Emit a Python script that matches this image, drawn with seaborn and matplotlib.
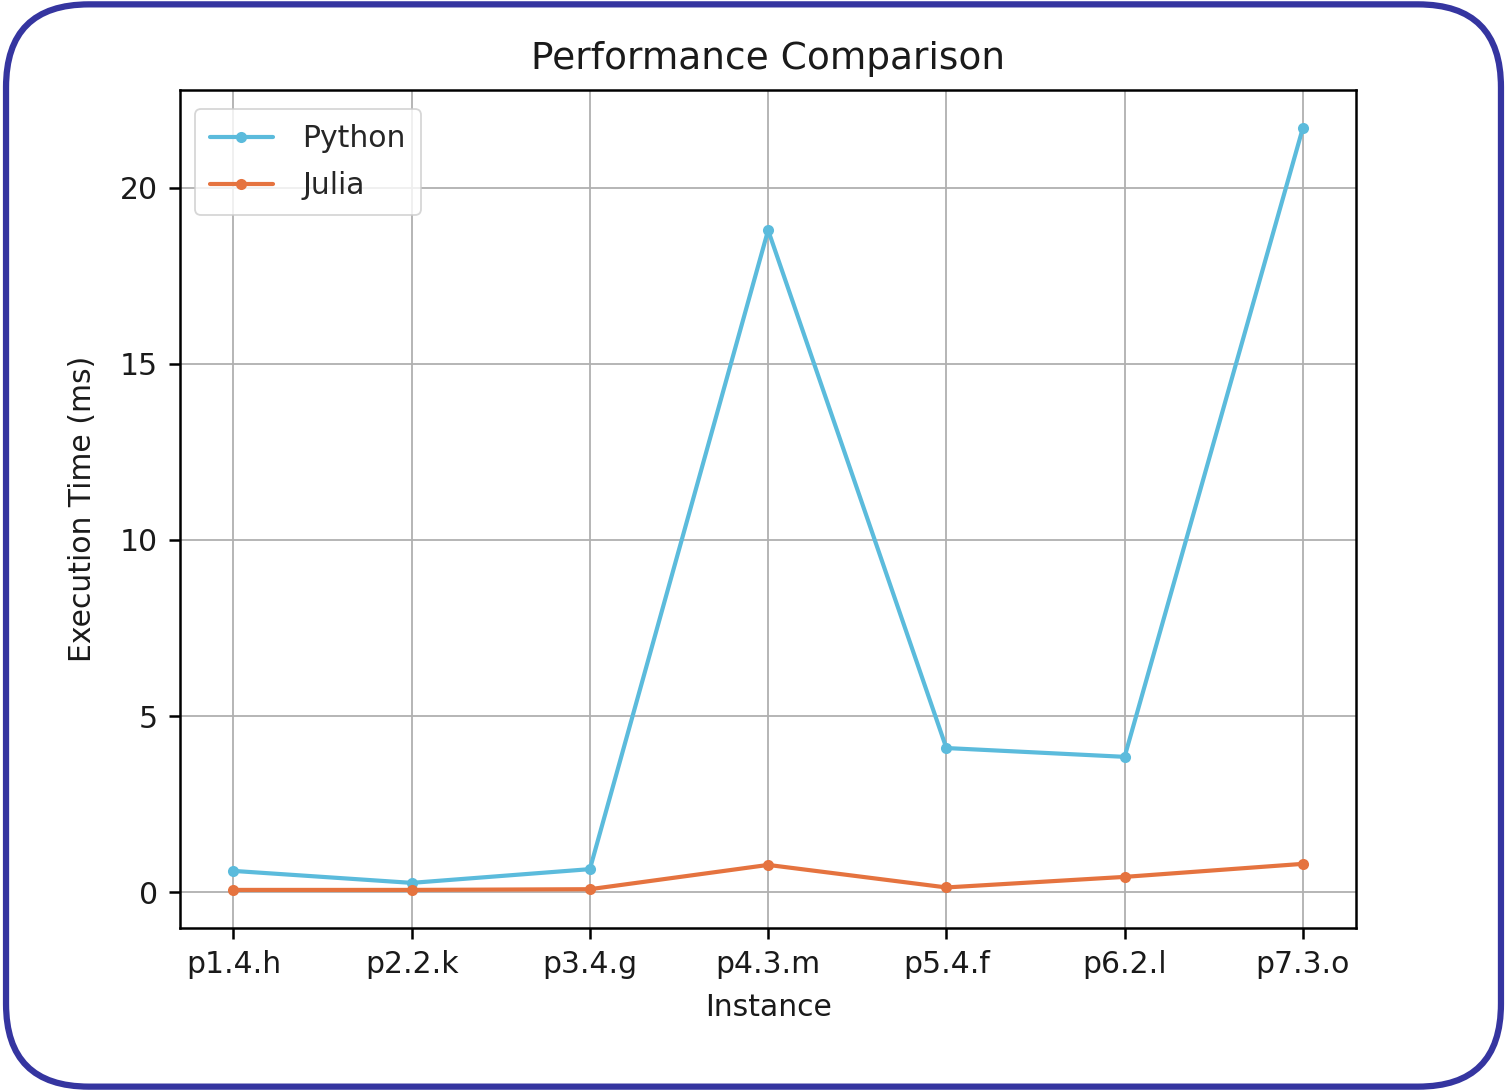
import matplotlib
matplotlib.use("Agg")
import matplotlib.pyplot as plt
from matplotlib.patches import FancyBboxPatch
import seaborn as sns
import pandas as pd

instances = ["p1.4.h", "p2.2.k", "p3.4.g", "p4.3.m", "p5.4.f", "p6.2.l", "p7.3.o"]
python_ms = [0.60, 0.26, 0.65, 18.80, 4.09, 3.84, 21.70]
julia_ms = [0.06, 0.06, 0.08, 0.77, 0.13, 0.43, 0.80]
series_names = ["Python", "Julia"]
colors = ["#5bbbdc", "#e5733f"]

df = pd.DataFrame({
    "Instance": instances * 2,
    "Time": python_ms + julia_ms,
    "Language": [series_names[0]] * len(instances) + [series_names[1]] * len(instances),
})

sns.set_style("white")
plt.rcParams["font.family"] = ["DejaVu Sans"]

fig = plt.figure(figsize=(15.07, 10.91), dpi=100)
ax = fig.add_axes([0.1194, 0.1494, 0.7806, 0.7681])

sns.lineplot(data=df, x="Instance", y="Time", hue="Language", palette=colors,
             marker="o", markersize=8, markeredgewidth=0, linewidth=3.0,
             sort=False, ax=ax)

ax.grid(True, color="#b0b0b0", linewidth=1.3)
ax.set_axisbelow(True)
for s in ax.spines.values():
    s.set_color("black")
    s.set_linewidth(1.8)
ax.tick_params(axis="both", labelsize=21.5, length=8, width=1.8, color="black", direction="out",
               bottom=True, left=True, labelcolor="#1a1a1a", pad=8)
ax.set_yticks([0, 5, 10, 15, 20])
ax.set_xlabel("Instance", fontsize=21.5, color="#1a1a1a", labelpad=10)
ax.set_ylabel("Execution Time (ms)", fontsize=21.5, color="#1a1a1a", labelpad=16)
ax.set_title("Performance Comparison", fontsize=27, pad=15, color="#1a1a1a")
ax.margins(x=0.05, y=0.05)

leg = ax.legend(loc="upper left", fontsize=21.5, frameon=True, handlelength=2.1,
                borderpad=0.5, labelspacing=0.6, handletextpad=1.0,
                bbox_to_anchor=(0.0, 0.995))
leg.get_frame().set_edgecolor("#cccccc")
leg.get_frame().set_linewidth(1.3)
leg.get_frame().set_alpha(0.8)

border = FancyBboxPatch((0.004, 0.004), 0.992, 0.992,
                        boxstyle="round,pad=0,rounding_size=0.055",
                        transform=fig.transFigure, fill=False,
                        edgecolor="#3535a0", linewidth=4.5, mutation_aspect=1507/1091)
fig.patches.append(border)

fig.savefig("out.png", dpi=100)
